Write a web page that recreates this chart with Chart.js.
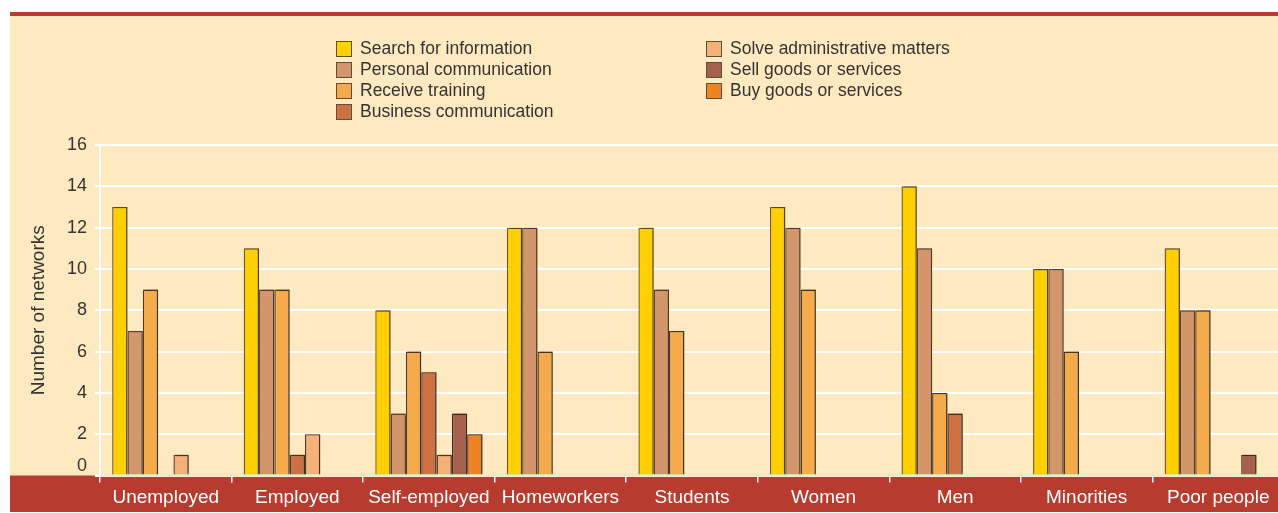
<!DOCTYPE html>
<html>
<head>
<meta charset="utf-8">
<title>Number of networks by target group</title>
<script src="https://cdn.jsdelivr.net/npm/chart.js@4.4.1/dist/chart.umd.min.js"></script>
<style>
  html, body { margin: 0; padding: 0; background: #fff; overflow: hidden; }
  body { width: 1278px; height: 513px; position: relative; font-family: 'Liberation Sans', Arial, sans-serif; }
  #wrap { position: absolute; left: 0; top: 0; width: 1284px; height: 513px; }
  #legend { position: absolute; left: 336px; top: 38px; display: grid; grid-template-columns: 370px 300px; grid-auto-flow: column; grid-template-rows: repeat(4, 21px); }
  .legend-item { display: flex; align-items: center; height: 21px; font-size: 17.5px; color: #333; white-space: nowrap; }
  .legend-box { width: 14px; height: 14px; border: 1px solid #5e4e36; margin-right: 8px; box-sizing: content-box; }
</style>
</head>
<body>
<div id="wrap"><canvas id="networksChart" width="1284" height="513"></canvas></div>
<div id="legend"></div>
<script>
const categories = ['Unemployed', 'Employed', 'Self-employed', 'Homeworkers', 'Students', 'Women', 'Men', 'Minorities', 'Poor people'];

const searchInfo     = [13, 11, 8, 12, 12, 13, 14, 10, 11];
const personalComm   = [7, 9, 3, 12, 9, 12, 11, 10, 8];
const receiveTraining = [9, 9, 6, 6, 7, 9, 4, 6, 8];
const businessComm   = [0, 1, 5, 0, 0, 0, 3, 0, 0];
const solveAdmin     = [1, 2, 1, 0, 0, 0, 0, 0, 0];
const sellGoods      = [0, 0, 3, 0, 0, 0, 0, 0, 1];
const buyGoods       = [0, 0, 2, 0, 0, 0, 0, 0, 0];

const yTicks = [0, 2, 4, 6, 8, 10, 12, 14, 16];

const series = [
  { label: 'Search for information', data: searchInfo, color: '#ffcf00', border: '#6e5a22' },
  { label: 'Personal communication', data: personalComm, color: '#d3966a', border: '#5a4430' },
  { label: 'Receive training', data: receiveTraining, color: '#f5ab4b', border: '#4a3a2a' },
  { label: 'Business communication', data: businessComm, color: '#cd7142', border: '#4a3326' },
  { label: 'Solve administrative matters', data: solveAdmin, color: '#f5b077', border: '#4a3a2a' },
  { label: 'Sell goods or services', data: sellGoods, color: '#a5604b', border: '#3e2a22' },
  { label: 'Buy goods or services', data: buyGoods, color: '#ee8322', border: '#4a3322' }
];

// legend in two columns, filled top to bottom
document.getElementById('legend').innerHTML = series.map(s => `
  <div class="legend-item"><span class="legend-box" style="background:${s.color}"></span>${s.label}</div>
`).join('');

// cream panel, red rules top and bottom
const panelBackground = {
  id: 'panelBackground',
  beforeDraw(chart) {
    const { ctx, chartArea } = chart;
    ctx.save();
    ctx.fillStyle = '#ffffff';
    ctx.fillRect(0, 0, chart.width, chart.height);
    ctx.fillStyle = '#b73b2e';
    ctx.fillRect(10, 12, chart.width, 4);
    ctx.fillStyle = '#fee9c1';
    ctx.fillRect(10, 16, chart.width, chartArea.bottom - 16);
    ctx.fillStyle = '#b73b2e';
    ctx.fillRect(10, chartArea.bottom, chart.width, 512 - chartArea.bottom);
    ctx.restore();
  }
};

// soft shadow behind the bars
const barShadow = {
  id: 'barShadow',
  beforeDatasetsDraw(chart) {
    const ctx = chart.ctx;
    ctx.save();
    ctx.shadowColor = 'rgba(60, 40, 20, 0.4)';
    ctx.shadowOffsetX = 2;
    ctx.shadowOffsetY = -1;
    ctx.shadowBlur = 1;
  },
  afterDatasetsDraw(chart) {
    chart.ctx.restore();
  }
};

Chart.defaults.font.family = "'Liberation Sans', Arial, sans-serif";

new Chart(document.getElementById('networksChart'), {
  type: 'bar',
  data: {
    labels: categories,
    datasets: series.map(s => ({
      label: s.label,
      data: s.data,
      backgroundColor: s.color,
      borderColor: s.border,
      borderWidth: 1.4,
      categoryPercentage: 0.815,
      barPercentage: 1
    }))
  },
  options: {
    responsive: false,
    animation: false,
    layout: { padding: { top: 145, left: 0, right: 0, bottom: 0 } },
    plugins: {
      legend: { display: false },
      tooltip: { enabled: false }
    },
    scales: {
      x: {
        afterFit(scale) { scale.height = 37.5; },
        grid: {
          offset: true,
          drawOnChartArea: false,
          drawTicks: true,
          tickLength: 7,
          color: '#ffffff',
          lineWidth: 1.5
        },
        border: { color: '#ece0cc', width: 1.5 },
        ticks: {
          color: '#ffffff',
          font: { size: 19 },
          padding: 4,
          maxRotation: 0,
          autoSkip: false
        }
      },
      y: {
        min: 0,
        max: 16,
        afterFit(scale) { scale.width = 100; },
        afterBuildTicks(scale) { scale.ticks = yTicks.map(v => ({ value: v })); },
        grid: {
          color: '#ffffff',
          lineWidth: 2,
          tickLength: 5
        },
        border: { color: '#ffffff', width: 2 },
        ticks: {
          color: '#333333',
          font: { size: 18, lineHeight: 1 },
          padding: 8,
          // the zero label sits a little above the baseline, clear of the band
          callback: v => (v === 0 ? ['0', ''] : String(v))
        },
        title: {
          display: true,
          text: 'Number of networks',
          color: '#333333',
          font: { size: 19 },
          padding: { top: 27, bottom: 0 }
        }
      }
    }
  },
  plugins: [panelBackground, barShadow]
});
</script>
</body>
</html>
